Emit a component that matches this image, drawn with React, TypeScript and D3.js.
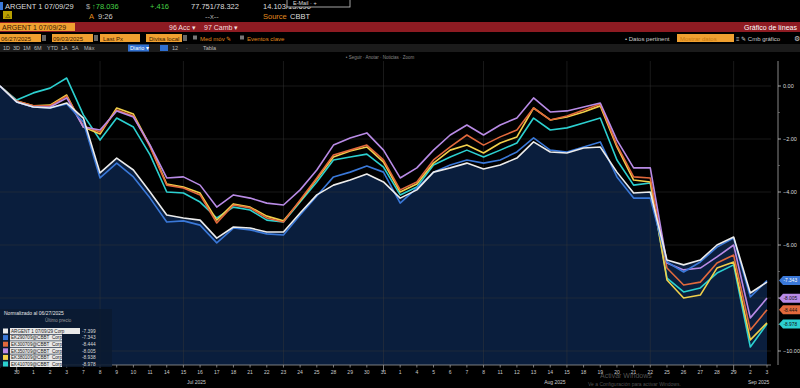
import React from 'react';
import * as d3 from 'd3';

const dates = [
  "06/27", "06/30",
  "07/01", "07/02", "07/03", "07/07", "07/08", "07/09", "07/10", "07/11", "07/14", "07/15", "07/16", "07/17", "07/18",
  "07/21", "07/22", "07/23", "07/24", "07/25", "07/28", "07/29", "07/30", "07/31",
  "08/01", "08/04", "08/05", "08/06", "08/07", "08/08", "08/11", "08/12", "08/13", "08/14", "08/15",
  "08/18", "08/19", "08/20", "08/21", "08/22", "08/25", "08/26", "08/27", "08/28", "08/29",
  "09/02", "09/03",
];

const argent = [0, -0.60, -0.79, -0.83, -0.64, -1.21, -3.28, -2.72, -3.17, -4.00, -4.87, -4.98, -5.06, -5.74, -5.32, -5.36, -5.51, -5.51, -4.79, -4.11, -3.74, -3.55, -3.32, -3.62, -4.23, -3.92, -3.25, -3.09, -2.91, -3.13, -2.98, -2.72, -2.11, -2.49, -2.53, -2.34, -2.30, -3.25, -4.04, -4.00, -6.57, -6.75, -6.57, -6.00, -5.70, -7.81, -7.399];
const bondBlue = [0, -0.60, -0.79, -0.83, -0.68, -1.36, -3.47, -2.91, -3.43, -4.23, -5.13, -5.09, -5.25, -5.92, -5.36, -5.43, -5.58, -5.62, -4.87, -4.15, -3.43, -3.25, -3.02, -3.25, -4.42, -3.85, -3.25, -2.98, -2.79, -2.91, -2.79, -2.49, -1.96, -2.42, -2.49, -2.30, -2.11, -3.43, -4.23, -4.23, -6.64, -7.02, -6.64, -6.08, -5.74, -7.96, -7.343];
const bondOrange = [0, -0.57, -0.75, -0.75, -0.38, -1.51, -1.74, -0.91, -1.13, -2.30, -3.74, -3.85, -4.11, -5.17, -4.49, -4.60, -4.98, -5.13, -4.30, -3.47, -2.60, -2.42, -2.23, -2.79, -3.92, -3.62, -2.79, -2.30, -1.85, -2.23, -1.92, -1.66, -0.83, -1.28, -1.13, -0.91, -0.68, -2.23, -3.43, -3.47, -6.87, -7.51, -7.40, -6.68, -6.38, -9.21, -8.444];
const bondPurple = [0, -0.60, -0.79, -0.79, -0.45, -1.55, -1.66, -0.94, -1.17, -2.23, -3.47, -3.43, -3.74, -4.57, -4.11, -4.23, -4.42, -4.49, -3.92, -3.17, -2.23, -1.96, -1.77, -2.42, -3.47, -3.09, -2.42, -1.85, -1.47, -1.85, -1.47, -1.21, -0.45, -0.98, -0.94, -0.79, -0.64, -2.04, -3.09, -3.09, -6.68, -6.94, -6.87, -6.45, -6.00, -8.75, -8.005];
const bondYellow = [0, -0.57, -0.75, -0.72, -0.34, -1.55, -1.81, -0.83, -1.06, -2.26, -3.70, -3.81, -4.04, -5.06, -4.45, -4.57, -4.91, -5.09, -4.34, -3.51, -2.68, -2.45, -2.30, -2.87, -4.00, -3.70, -2.91, -2.42, -2.23, -2.53, -2.15, -1.92, -0.83, -1.28, -1.17, -0.98, -0.75, -2.30, -3.55, -3.62, -7.32, -8.00, -7.89, -6.87, -6.64, -9.58, -8.938];
const bondCyan = [0, -0.53, -0.26, -0.08, 0.30, -1.09, -2.04, -1.21, -1.55, -2.60, -4.00, -4.04, -4.38, -4.98, -4.57, -4.68, -5.06, -5.13, -4.38, -3.62, -2.79, -2.68, -2.57, -3.06, -4.11, -3.81, -2.98, -2.68, -2.42, -2.68, -2.42, -2.15, -1.21, -1.66, -1.58, -1.40, -1.21, -2.79, -3.74, -3.66, -7.25, -7.77, -7.62, -7.06, -6.75, -9.85, -8.978];

const seriesNames = [
  "ARGENT 1 07/09/29 Corp",
  "EK290709@CBBT",
  "EK300709@CBBT",
  "EK350709@CBBT",
  "EK380109@CBBT",
  "EK410709@CBBT",
];
const seriesColors = ["#ececec", "#3a78d8", "#e2693c", "#b98be6", "#f1d04a", "#2cd0d0"];
const seriesData = [argent, bondBlue, bondOrange, bondPurple, bondYellow, bondCyan];
const lastLabels = ["-7.399", "-7.343", "-8.444", "-8.005", "-8.938", "-8.978"];

const yTicks = [0, -2, -4, -6, -8, -10];
const gridDates = ["07/08", "07/15", "07/23", "07/31", "08/08", "08/15", "08/22", "08/29"];
const monthEnds = ["06/30", "07/31", "08/29"];
const months = [
  { key: "07", label: "Jul 2025" },
  { key: "08", label: "Aug 2025" },
  { key: "09", label: "Sep 2025" },
];

const FONT = "Liberation Sans, Arial, sans-serif";

export default function App() {
  const W = 800, H = 388;
  const plotRight = 771, axisX = 778, plotBottom = 365, plotTop = 61;

  const x = d3.scalePoint<string>().domain(dates).range([0, 767]).padding(0);
  const y = d3.scaleLinear().domain([0, -10]).range([86, 351]);

  const line = d3.line<number>().x((_, i) => x(dates[i]) as number).y(d => y(d));
  const area = d3.area<number>().x((_, i) => x(dates[i]) as number).y0(plotBottom).y1(d => y(d));

  const drawOrder = [5, 4, 2, 3, 1, 0];
  const tagOrder = [1, 3, 2, 5];

  const tag = (yy: number, color: string, label: string, dark: boolean, key: string) => (
    <g key={key}>
      <path d={`M${axisX + 1},${yy} L${axisX + 5},${yy - 4.5} L${W},${yy - 4.5} L${W},${yy + 4.5} L${axisX + 5},${yy + 4.5} Z`} fill={color} />
      <text x={axisX + 5.5} y={yy + 1.8} fontSize={4.8} fill={dark ? "#111" : "#fff"}>{label}</text>
    </g>
  );

  return (
    <svg width={W} height={H} style={{ position: 'fixed', left: 0, top: 0, background: '#000' }} fontFamily={FONT}>
      <rect width={W} height={H} fill="#000" />

      {/* header row 1 */}
      <rect x={0} y={2} width={3} height={8} fill="#3a78d8" />
      <text x={5} y={9} fontSize={7.5} fill="#ddd">ARGENT 1 07/09/29</text>
      <text x={86} y={9} fontSize={7.5} fill="#aaa">$</text>
      <text x={92} y={9} fontSize={7.5} fill="#45d045">↑78.036</text>
      <text x={150} y={9} fontSize={7.5} fill="#45d045">+.416</text>
      <text x={191} y={9} fontSize={7.5} fill="#ddd">77.751/78.322</text>
      <text x={263} y={9} fontSize={7.5} fill="#ddd">14.103/13.690</text>
      <rect x={287} y={-1} width={63} height={8} fill="#000" stroke="#ccc" strokeWidth={0.8} />
      <text x={293} y={4.5} fontSize={5.5} fill="#ddd">E-Mail · +</text>

      {/* header row 2 */}
      <rect x={3} y={11} width={9} height={8} fill="#b9a000" />
      <text x={5} y={18} fontSize={6} fill="#000">⚠</text>
      <text x={89} y={19} fontSize={7.5} fill="#e08a1e">A</text>
      <text x={98} y={19} fontSize={7.5} fill="#ccc">9:26</text>
      <text x={205} y={19} fontSize={7.5} fill="#aaa">--x--</text>
      <text x={263} y={19} fontSize={7.5} fill="#e08a1e">Source</text>
      <text x={290} y={19} fontSize={7.5} fill="#ddd">CBBT</text>

      {/* header row 3: red bar */}
      <rect x={0} y={22} width={W} height={10} fill="#8e1b22" />
      <rect x={0} y={23} width={75} height={8} fill="#f0a030" />
      <text x={2} y={30} fontSize={7} fill="#3a1a00">ARGENT 1 07/09/29</text>
      <text x={169} y={30} fontSize={7} fill="#f3dede">96 Acc ▾</text>
      <text x={204} y={30} fontSize={7} fill="#f3dede">97 Camb ▾</text>
      <text x={797} y={30} fontSize={7} fill="#fff" textAnchor="end">Gráfico de líneas</text>

      {/* header row 4 */}
      <rect x={0} y={34} width={41} height={8} fill="#f0a030" />
      <text x={1} y={40.5} fontSize={6} fill="#3a1a00">06/27/2025</text>
      <rect x={42} y={35} width={4} height={6} fill="#666" />
      <rect x={52} y={34} width={41} height={8} fill="#f0a030" />
      <text x={53} y={40.5} fontSize={6} fill="#3a1a00">09/03/2025</text>
      <rect x={94} y={35} width={4} height={6} fill="#666" />
      <rect x={100} y={34} width={40} height={8} fill="#f0a030" />
      <text x={103} y={40.5} fontSize={6} fill="#3a1a00">Last Px</text>
      <rect x={146} y={34} width={36} height={8} fill="#f0a030" />
      <text x={149} y={40.5} fontSize={6} fill="#3a1a00">Divisa local</text>
      <rect x={183} y={35} width={4} height={6} fill="#666" />
      <rect x={193} y={35.5} width={4} height={4} fill="#777" />
      <text x={200} y={40.5} fontSize={6} fill="#e08a1e">Med móv ✎</text>
      <rect x={240} y={35.5} width={4} height={4} fill="#777" />
      <text x={247} y={40.5} fontSize={6} fill="#e08a1e">Eventos clave</text>
      <text x={625} y={40.5} fontSize={6} fill="#ccc">• Datos pertinent</text>
      <rect x={677} y={34} width={57} height={8} fill="#f0a030" />
      <text x={680} y={40.5} fontSize={6} fill="#c87a10">Mostrar datos</text>
      <text x={736} y={40.5} fontSize={6} fill="#ccc">≡  ✎ Cmb gráfico</text>
      <text x={794} y={41} fontSize={7} fill="#ccc">⚙</text>

      {/* header row 5 */}
      <rect x={0} y={44} width={W} height={8} fill="#1b1b1b" />
      {["1D", "3D", "1M", "6M", "YTD", "1A", "5A", "Máx"].map((t, i) => (
        <text key={t} x={3 + [0, 10, 20, 31, 44, 58, 69, 81][i]} y={50} fontSize={5.5} fill="#bbb">{t}</text>
      ))}
      <rect x={128} y={44.5} width={21} height={7} fill="#2f6fd0" />
      <text x={130} y={50} fontSize={5.5} fill="#fff">Diario ▾</text>
      <rect x={160} y={45} width={8} height={6} fill="#2f6fd0" />
      <text x={172} y={50} fontSize={5.5} fill="#bbb">12</text>
      <text x={186} y={50} fontSize={5.5} fill="#bbb">·</text>
      <text x={203} y={50} fontSize={5.5} fill="#bbb">Tabla</text>

      {/* toolbar row */}
      <text x={380} y={59} fontSize={4.5} fill="#888" textAnchor="middle">•  Seguir  ·  Anotar  ·  Noticias  ·  Zoom</text>

      {/* plot area */}
      <path d={area(argent) as string} fill="#0a1e3d" />

      {yTicks.map(t => (
        <line key={`gy${t}`} x1={0} x2={plotRight} y1={y(t)} y2={y(t)} stroke="#3a3a3a" strokeOpacity={0.55} strokeWidth={0.8} />
      ))}
      {gridDates.map(d => (
        <line key={`gx${d}`} x1={x(d)} x2={x(d)} y1={plotTop} y2={plotBottom} stroke="#3a3a3a" strokeOpacity={0.55} strokeWidth={0.8} />
      ))}

      {drawOrder.map(i => (
        <path key={`s${i}`} d={line(seriesData[i]) as string} fill="none" stroke={seriesColors[i]} strokeWidth={1.6} strokeLinejoin="round" />
      ))}

      {/* right axis */}
      <line x1={axisX} x2={axisX} y1={plotTop} y2={plotBottom} stroke="#aaa" strokeWidth={0.8} />
      {yTicks.map(t => (
        <g key={`ya${t}`}>
          <line x1={axisX} x2={axisX + 3} y1={y(t)} y2={y(t)} stroke="#ccc" strokeWidth={0.8} />
          <text x={axisX + 5} y={y(t) + 2} fontSize={5.5} fill="#ddd">{t === 0 ? "0.00" : d3.format(".2f")(t)}</text>
        </g>
      ))}
      {yTicks.slice(0, -1).map(t => (
        <line key={`ym${t}`} x1={axisX} x2={axisX + 2} y1={y(t - 1)} y2={y(t - 1)} stroke="#888" strokeWidth={0.6} />
      ))}
      {tagOrder.map(i => tag(y(seriesData[i][seriesData[i].length - 1]), seriesColors[i], lastLabels[i], i !== 1, `tag${i}`))}

      {/* bottom axis */}
      <line x1={0} x2={plotRight} y1={plotBottom} y2={plotBottom} stroke="#999" strokeWidth={0.8} />
      {dates.map(d => (
        <g key={`xt${d}`}>
          <line x1={x(d)} x2={x(d)} y1={plotBottom} y2={plotBottom + (monthEnds.includes(d) ? 7 : 2.5)} stroke="#aaa" strokeWidth={0.7} />
          {d !== "06/27" && (
            <text x={x(d)} y={plotBottom + 8.5} fontSize={5} fill="#ccc" textAnchor="middle">{String(+d.slice(3))}</text>
          )}
        </g>
      ))}
      {months.map(m => {
        const ds = dates.filter(d => d.startsWith(m.key));
        const cx = (d3.mean(ds, d => x(d) as number) as number) - (m.key === "09" ? 0 : 12);
        return <text key={m.key} x={cx} y={plotBottom + 19} fontSize={5} fill="#ccc" textAnchor="middle">{m.label}</text>;
      })}

      {/* watermark */}
      <text x={600} y={378} fontSize={7} fill="#777" fillOpacity={0.7}>Activar Windows</text>
      <text x={588} y={386} fontSize={5} fill="#777" fillOpacity={0.7}>Ve a Configuración para activar Windows.</text>

      {/* legend */}
      <rect x={0} y={309} width={112} height={58} fill="#0b1a30" fillOpacity={0.85} />
      <text x={4} y={315} fontSize={5} fill="#e6e6e6">Normalizado al 06/27/2025</text>
      <text x={45} y={322} fontSize={4.5} fill="#999">Último precio</text>
      {seriesNames.map((n, i) => {
        const ry = 331 + i * 6.6;
        return (
          <g key={`lg${i}`}>
            <rect x={3} y={ry - 2.5} width={5} height={5} fill={seriesColors[i]} />
            <rect x={10} y={ry - 3} width={i === 0 ? 70 : 52} height={6} fill="#e8e8e8" />
            <text x={11} y={ry + 1.8} fontSize={4.6} fill="#222">{n}</text>
            {i > 0 && <text x={52} y={ry + 1.8} fontSize={4.6} fill="#222">Corp</text>}
            <text x={82} y={ry + 1.8} fontSize={4.8} fill="#ddd">{lastLabels[i]}</text>
          </g>
        );
      })}
    </svg>
  );
}
